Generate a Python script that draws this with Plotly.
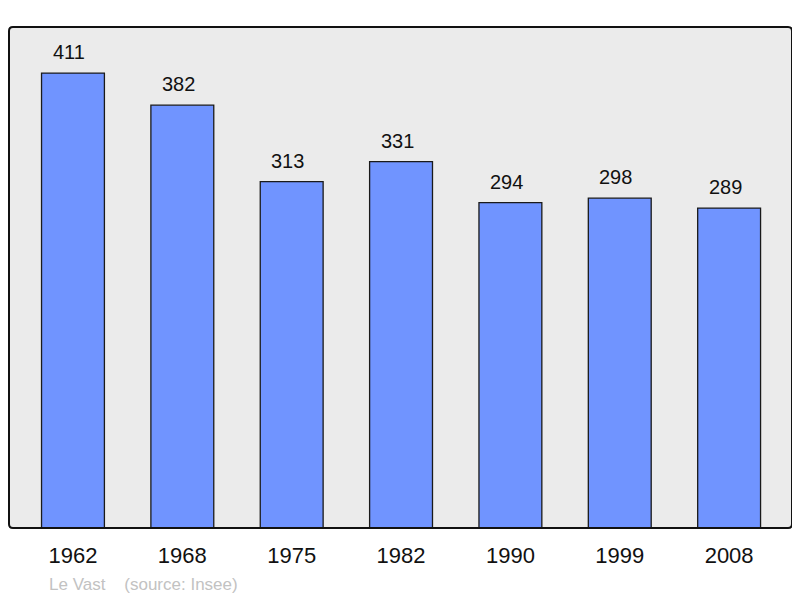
import plotly.graph_objects as go

years = ["1962", "1968", "1975", "1982", "1990", "1999", "2008"]
population = [411, 382, 313, 331, 294, 298, 289]

FONT = "Liberation Sans, Arial, sans-serif"

fig = go.Figure()
fig.add_trace(go.Bar(
    x=list(range(len(years))), y=population,
    width=0.575,
    marker=dict(color="#7094ff", line=dict(color="#1a1a1a", width=1.3)),
    hoverinfo="skip",
))
for i, v in enumerate(population):
    fig.add_annotation(x=i, y=v, text=str(v), showarrow=False,
                       yanchor="bottom", yshift=8, xshift=-4,
                       font=dict(size=20, color="#111", family=FONT))

# rounded frame around the plot area (paper coords)
rx, ry = 0.005, 0.008
path = (f"M {rx},0 L {1-rx},0 Q 1,0 1,{ry} L 1,{1-ry} Q 1,1 {1-rx},1 "
        f"L {rx},1 Q 0,1 0,{1-ry} L 0,{ry} Q 0,0 {rx},0 Z")
fig.add_shape(type="path", xref="paper", yref="paper", path=path,
              line=dict(color="#111", width=2), layer="above")

fig.add_annotation(xref="paper", yref="paper", x=0.048, y=0, yshift=-56, xanchor="left",
                   yanchor="middle", showarrow=False,
                   text="Le Vast&nbsp;&nbsp;&nbsp;&nbsp;(source: Insee)",
                   font=dict(size=17, color="#c2c2c2", family=FONT))

fig.update_layout(
    width=792, height=590,
    margin=dict(l=1, r=8, t=19, b=70),
    paper_bgcolor="white", plot_bgcolor="#ebebeb",
    showlegend=False,
    xaxis=dict(range=[-0.585, 6.575], showgrid=False, zeroline=False, showline=False,
               tickmode="array", tickvals=list(range(len(years))), ticktext=years,
               ticks="", tickfont=dict(size=22, color="#111", family=FONT),
               ticklabelstandoff=12),
    yaxis=dict(range=[0, 452.6], visible=False, showgrid=False, zeroline=False),
    font=dict(family=FONT),
)
fig.write_html("out.html")
